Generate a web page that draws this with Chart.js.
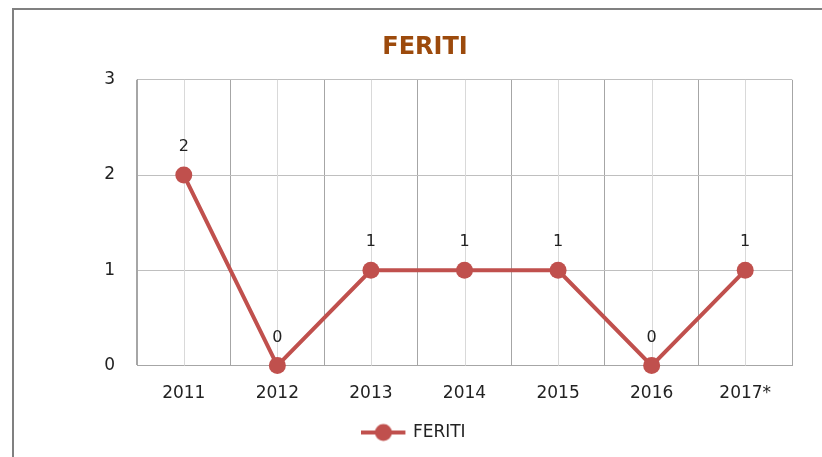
<!DOCTYPE html>
<html>
<head>
<meta charset="utf-8">
<script src="https://cdn.jsdelivr.net/npm/chart.js@4/dist/chart.umd.min.js"></script>
<style>
    html, body { margin: 0; padding: 0; background: #fff; overflow: hidden; }
    #wrap { position: relative; width: 822px; height: 457px; }
    #frame { position: absolute; left: 12px; top: 8px; width: 900px; height: 600px; border: 2px solid #808080; }
    #chart { position: absolute; left: 0; top: 0; }
</style>
</head>
<body>
<div id="wrap">
    <div id="frame"></div>
    <canvas id="chart" width="822" height="457"></canvas>
</div>
<script>
const years = ['2011', '2012', '2013', '2014', '2015', '2016', '2017*'];
const feriti = [2, 0, 1, 1, 1, 0, 1];
const yTicks = [0, 1, 2, 3];

const red = '#c0504d';
const font = 'DejaVu Sans';

// legend marker: line with a dot; drawn in the left part of a wider canvas
// so the legend sits a bit left of the title, as in the original
const marker = document.createElement('canvas');
marker.width = 66;
marker.height = 20;
(() => {
    const c = marker.getContext('2d');
    c.strokeStyle = red;
    c.lineWidth = 4;
    c.beginPath();
    c.moveTo(0, 10);
    c.lineTo(44, 10);
    c.stroke();
    c.fillStyle = red;
    c.beginPath();
    c.arc(22, 10, 8.5, 0, Math.PI * 2);
    c.fill();
})();

// extra vertical grid lines through the category centres
const centreLines = {
    id: 'centreLines',
    beforeDatasetsDraw(chart) {
        const { ctx, chartArea, scales } = chart;
        ctx.save();
        ctx.strokeStyle = '#d9d9d9';
        ctx.lineWidth = 1;
        years.forEach((_, i) => {
            const x = Math.round(scales.x.getPixelForValue(i)) + 0.5;
            ctx.beginPath();
            ctx.moveTo(x, chartArea.top);
            ctx.lineTo(x, chartArea.bottom);
            ctx.stroke();
        });
        ctx.restore();
    },
};

// value labels above the points
const valueLabels = {
    id: 'valueLabels',
    afterDatasetsDraw(chart) {
        const { ctx } = chart;
        const meta = chart.getDatasetMeta(0);
        ctx.save();
        ctx.font = '16px "' + font + '"';
        ctx.fillStyle = '#222';
        ctx.textAlign = 'center';
        ctx.textBaseline = 'middle';
        meta.data.forEach((pt, i) => {
            ctx.fillText(String(feriti[i]), pt.x, pt.y - 28);
        });
        ctx.restore();
    },
};

new Chart(document.getElementById('chart'), {
    type: 'line',
    data: {
        labels: years,
        datasets: [{
            label: 'FERITI',
            data: feriti,
            borderColor: red,
            backgroundColor: red,
            borderWidth: 4,
            pointRadius: 8.5,
            pointHoverRadius: 8.5,
            pointBackgroundColor: red,
            pointBorderWidth: 0,
            tension: 0,
            clip: false,
        }],
    },
    options: {
        responsive: false,
        animation: false,
        events: [],
        layout: { padding: { left: 58, right: 30, top: 0, bottom: 6 } },
        plugins: {
            title: {
                display: true,
                text: 'FERITI',
                color: '#9c4a0c',
                font: { family: font, size: 24, weight: 'bold' },
                padding: { top: 33, bottom: 18 },
            },
            legend: {
                position: 'bottom',
                labels: {
                    usePointStyle: true,
                    pointStyle: marker,
                    pointStyleWidth: 20,
                    color: '#222',
                    font: { family: font, size: 17 },
                    padding: 2,
                },
            },
            tooltip: { enabled: false },
        },
        scales: {
            x: {
                offset: true,
                grid: { offset: true, color: '#a6a6a6', drawTicks: false },
                border: { color: '#a6a6a6' },
                ticks: { color: '#222', font: { family: font, size: 17 }, padding: 18, maxRotation: 0 },
            },
            y: {
                min: 0,
                max: 3,
                afterBuildTicks(scale) {
                    scale.ticks = yTicks.map(v => ({ value: v }));
                },
                afterFit(scale) {
                    scale.width = 79;
                },
                grid: { color: '#bfbfbf', drawTicks: false },
                border: { color: '#a6a6a6' },
                ticks: { color: '#222', font: { family: font, size: 17 }, padding: 22 },
            },
        },
    },
    plugins: [centreLines, valueLabels],
});
</script>
</body>
</html>
